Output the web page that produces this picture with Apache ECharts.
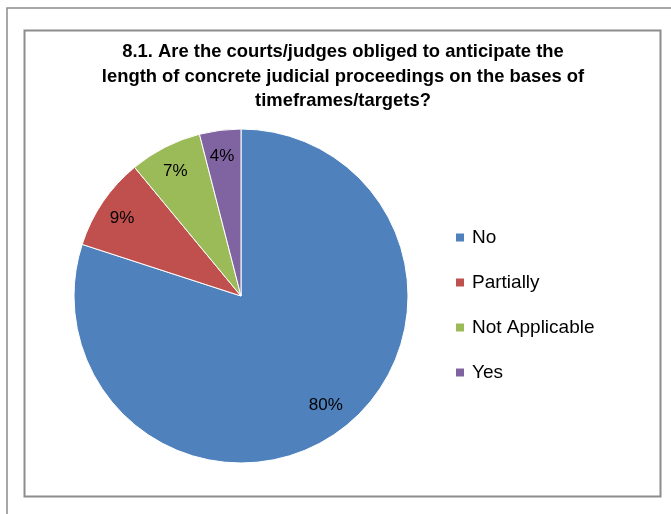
<!DOCTYPE html>
<html>
<head>
<meta charset="utf-8">
<script src="https://cdn.jsdelivr.net/npm/echarts@6/dist/echarts.min.js"></script>
<style>
  html, body { margin: 0; padding: 0; background: #fff; }
  #chart { width: 671px; height: 514px; }
</style>
</head>
<body>
<div id="chart"></div>
<script>
// 数据
const categories = ['No', 'Partially', 'Not Applicable', 'Yes'];
const shares = [80, 9, 7, 4];
const colors = ['#4F81BD', '#C0504D', '#9BBB59', '#8064A2'];
const titleText = '8.1. Are the courts/judges obliged to anticipate the\nlength of concrete judicial proceedings on the bases of\ntimeframes/targets?';

const font = 'Liberation Sans';
const pieData = categories.map((name, i) => ({
  name,
  value: shares[i],
  itemStyle: { color: colors[i] }
}));

const chart = echarts.init(document.getElementById('chart'));

chart.setOption({
  backgroundColor: '#fff',
  animation: false,
  title: {
    text: titleText,
    left: 338,
    top: 35,
    textAlign: 'center',
    textStyle: {
      fontFamily: font,
      fontSize: 18.4,
      fontWeight: 'bold',
      color: '#000',
      lineHeight: 24.5
    }
  },
  legend: {
    orient: 'vertical',
    left: 449,
    top: 223,
    itemWidth: 10,
    itemHeight: 10,
    itemGap: 26,
    icon: 'rect',
    data: categories,
    textStyle: { fontFamily: font, fontSize: 19, color: '#000', padding: [0, 0, 0, 2] }
  },
  graphic: [
    // 外框
    { type: 'polyline', shape: { points: [[7, 514], [7, 8], [671, 8]] },
      style: { stroke: '#8c8c8c', lineWidth: 1.5, fill: null } },
    // 图表边框
    { type: 'rect', shape: { x: 24.5, y: 30.5, width: 636, height: 466 },
      style: { stroke: '#8c8c8c', lineWidth: 2, fill: null } }
  ],
  series: [
    {
      type: 'pie',
      center: [241, 296],
      radius: [0, 167],
      startAngle: 90,
      clockwise: true,
      label: { show: false },
      labelLine: { show: false },
      itemStyle: { borderColor: '#fff', borderWidth: 1 },
      emphasis: { disabled: true },
      data: pieData
    },
    {
      // 标签层
      type: 'pie',
      center: [241, 296],
      radius: [112, 167],
      startAngle: 90,
      clockwise: true,
      silent: true,
      itemStyle: { color: 'transparent' },
      label: {
        show: true,
        position: 'inside',
        formatter: '{c}%',
        fontFamily: font,
        fontSize: 17,
        color: '#000'
      },
      labelLine: { show: false },
      emphasis: { disabled: true },
      data: categories.map((name, i) => ({
        name,
        value: shares[i],
        label: i === 0 ? { offset: [1, -6] } : { offset: [-1, 2] }
      }))
    }
  ]
});
</script>
</body>
</html>
